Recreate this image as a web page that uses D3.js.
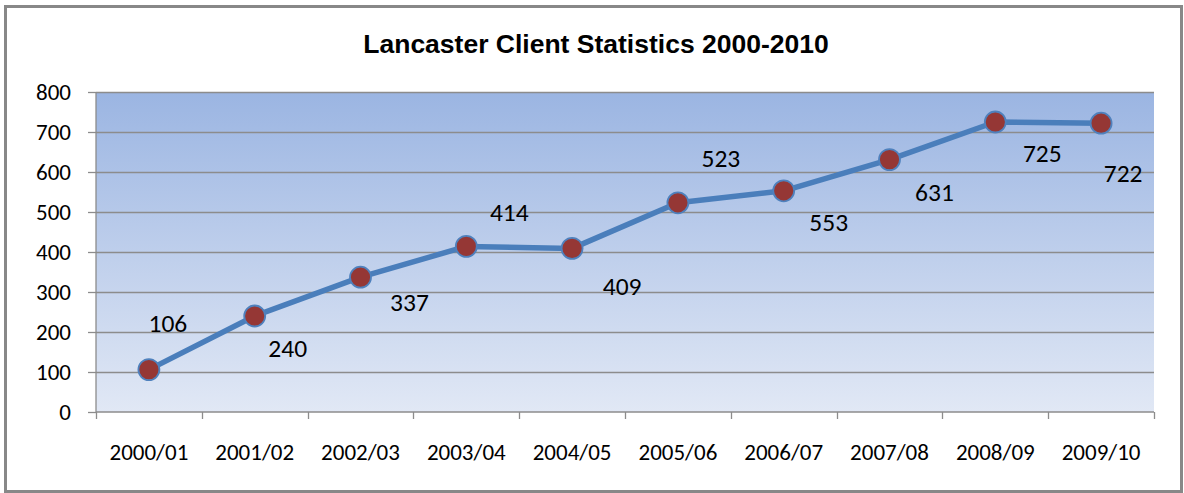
<!DOCTYPE html>
<html><head><meta charset="utf-8">
<script src="https://cdn.jsdelivr.net/npm/d3@7"></script>
<style>body{margin:0;background:#fff}svg{display:block}</style>
</head><body>
<svg id="c" width="1184" height="493"></svg>
<script>
const categories = ["2000/01","2001/02","2002/03","2003/04","2004/05","2005/06","2006/07","2007/08","2008/09","2009/10"];
const clients = [106,240,337,414,409,523,553,631,725,722];
const yTicks = [0,100,200,300,400,500,600,700,800];
const title = "Lancaster Client Statistics 2000-2010";
// label placement offsets (px) relative to each marker
const labelDx = [19,33,49,43,50,43,45,45,47,22];
const labelDy = [-47,32,25,-34,38,-45,31,32,31,50];

const svg = d3.select("#c");
const L=96, R=1154, T=92, B=412;
const x = d3.scaleBand().domain(categories).range([L,R]);
const y = d3.scaleLinear().domain([0,800]).range([B,T]);
const font = "Carlito, Lato, 'Liberation Sans', sans-serif";

// outer frame
svg.append("rect").attr("x",5.5).attr("y",6.5).attr("width",1176).attr("height",485)
  .attr("fill","#fff").attr("stroke","#888").attr("stroke-width",3);

const defs = svg.append("defs");
const g = defs.append("linearGradient").attr("id","bg").attr("x1",0).attr("y1",0).attr("x2",0).attr("y2",1);
g.append("stop").attr("offset","0%").attr("stop-color","#9BB5E2");
g.append("stop").attr("offset","100%").attr("stop-color","#E1E8F5");
svg.append("rect").attr("x",L).attr("y",T).attr("width",R-L).attr("height",B-T).attr("fill","url(#bg)");

svg.append("text").attr("x",596).attr("y",53).attr("text-anchor","middle")
  .attr("font-family","'Liberation Sans', Arial, sans-serif").attr("font-weight","bold")
  .attr("font-size",26.5).attr("fill","#000").text(title);

// gridlines
svg.append("g").selectAll("line").data(yTicks.filter(d=>d>0)).join("line")
  .attr("x1",L).attr("x2",R).attr("y1",d=>Math.round(y(d))+0.5).attr("y2",d=>Math.round(y(d))+0.5)
  .attr("stroke","#8C8C8C").attr("stroke-width",1.3);

// y axis
const ya = svg.append("g").attr("transform",`translate(${L},0)`)
  .call(d3.axisLeft(y).tickValues(yTicks).tickSize(8).tickPadding(17));
ya.select(".domain").attr("stroke","#8C8C8C").attr("stroke-width",1.3).attr("d",`M0,${T}V${B}`);
ya.selectAll(".tick line").attr("stroke","#8C8C8C").attr("stroke-width",1.3);
ya.selectAll("text").attr("font-family",font).attr("font-size",23).attr("fill","#000");

// x axis
const xa = svg.append("g").attr("transform",`translate(0,${B})`)
  .call(d3.axisBottom(x).tickSize(0).tickPadding(32));
xa.select(".domain").attr("stroke","#8C8C8C").attr("stroke-width",1.3).attr("d",`M${L},0H${R}`);
xa.selectAll("text").attr("font-family",font).attr("font-size",23).attr("fill","#000");
const bounds = categories.map(c=>x(c)).concat([R]);
svg.append("g").selectAll("line").data(bounds).join("line")
  .attr("x1",d=>Math.round(d)+0.5).attr("x2",d=>Math.round(d)+0.5).attr("y1",B).attr("y2",B+7)
  .attr("stroke","#8C8C8C").attr("stroke-width",1.3);

const cx = (d,i)=>x(categories[i])+x.bandwidth()/2;
const line = d3.line().x((d,i)=>cx(d,i)).y(d=>y(d));
svg.append("path").datum(clients).attr("d",line).attr("fill","none")
  .attr("stroke","#4A7EBB").attr("stroke-width",5.5).attr("stroke-linejoin","round");

svg.append("g").selectAll("circle").data(clients).join("circle")
  .attr("cx",cx).attr("cy",d=>y(d)).attr("r",10.5)
  .attr("fill","#953735").attr("stroke","#4F81BD").attr("stroke-width",1.8);

svg.append("g").selectAll("text").data(clients).join("text")
  .attr("x",(d,i)=>cx(d,i)+labelDx[i]).attr("y",(d,i)=>y(d)+labelDy[i])
  .attr("dy","0.35em").attr("text-anchor","middle")
  .attr("font-family",font).attr("font-size",25.5).attr("fill","#000").text(d=>d);
</script>
</body></html>
